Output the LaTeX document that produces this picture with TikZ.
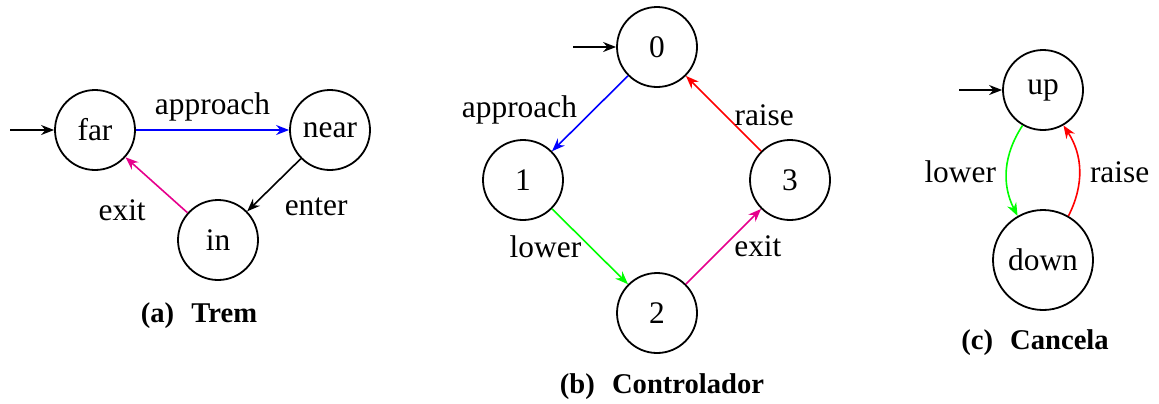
\documentclass[tikz,border=0pt]{standalone}
\usepackage{fontspec}
\setmainfont{Liberation Serif}
\usetikzlibrary{arrows.meta}
\definecolor{myblue}{RGB}{0,0,255}
\definecolor{mygreen}{RGB}{0,255,0}
\definecolor{myred}{RGB}{255,0,0}
\definecolor{mymag}{RGB}{230,0,140}
\begin{document}
\begin{tikzpicture}[x=0.5pt,y=-0.5pt,
 state/.style={circle,draw,line width=0.9pt,minimum size=40pt,inner sep=0pt,font=\fontsize{15.7}{18}\selectfont},
 tr/.style={-{Stealth[length=6.5pt,width=5pt]},line width=0.8pt},
 lbl/.style={font=\fontsize{15.7}{18}\selectfont,inner sep=3pt,text=black},
 captxt/.style={font=\fontsize{14.3}{17}\selectfont\bfseries}]
\useasboundingbox (0,0) rectangle (1159,403);
% (a) Trem
\node[state] (far) at (95,130) {far};
\node[state] (near) at (330,130) {near};
\node[state] (in) at (218,240) {in};
\coordinate (fs) at (10,130);
\draw[tr] (fs) -- (far);
\draw[tr,myblue] (far) -- node[lbl,above,yshift=1pt] {approach} (near);
\draw[tr] (near) -- node[lbl,below right,xshift=2pt,yshift=-3pt] {enter} (in);
\draw[tr,mymag] (in) -- node[lbl,below left,xshift=-2pt,yshift=-4pt] {exit} (far);
\node[captxt] (capa) at (199,316) {(a)\hspace{0.6em}Trem};
% (b) Controlador
\node[state] (s0) at (657,47) {0};
\node[state] (s1) at (523,180) {1};
\node[state] (s2) at (657,313) {2};
\node[state] (s3) at (790,180) {3};
\coordinate (bs) at (573,47);
\draw[tr] (bs) -- (s0);
\draw[tr,myblue] (s0) -- node[lbl,left,pos=0.45,xshift=-5pt] {approach} (s1);
\draw[tr,mygreen] (s1) -- node[lbl,left,pos=0.5,xshift=-1pt] {lower} (s2);
\draw[tr,mymag] (s2) -- node[lbl,right,pos=0.5,xshift=2pt] {exit} (s3);
\draw[tr,myred] (s3) -- node[lbl,right,pos=0.55,xshift=4pt,yshift=-3pt] {raise} (s0);
\node[captxt] (capb) at (662,387) {(b)\hspace{0.6em}Controlador};
% (c) Cancela
\node[state] (up) at (1043,90) {up};
\node[state,minimum size=50pt] (down) at (1043,260) {down};
\coordinate (cs) at (959,90);
\draw[tr] (cs) -- (up);
\draw[tr,mygreen] (up) to[bend right=30] node[lbl,left,xshift=-2pt,yshift=-1pt] {lower} (down);
\draw[tr,myred] (down) to[bend right=30] node[lbl,right,xshift=2pt,yshift=-1pt] {raise} (up);
\node[captxt] (capc) at (1035,343) {(c)\hspace{0.6em}Cancela};
\end{tikzpicture}
\end{document}
